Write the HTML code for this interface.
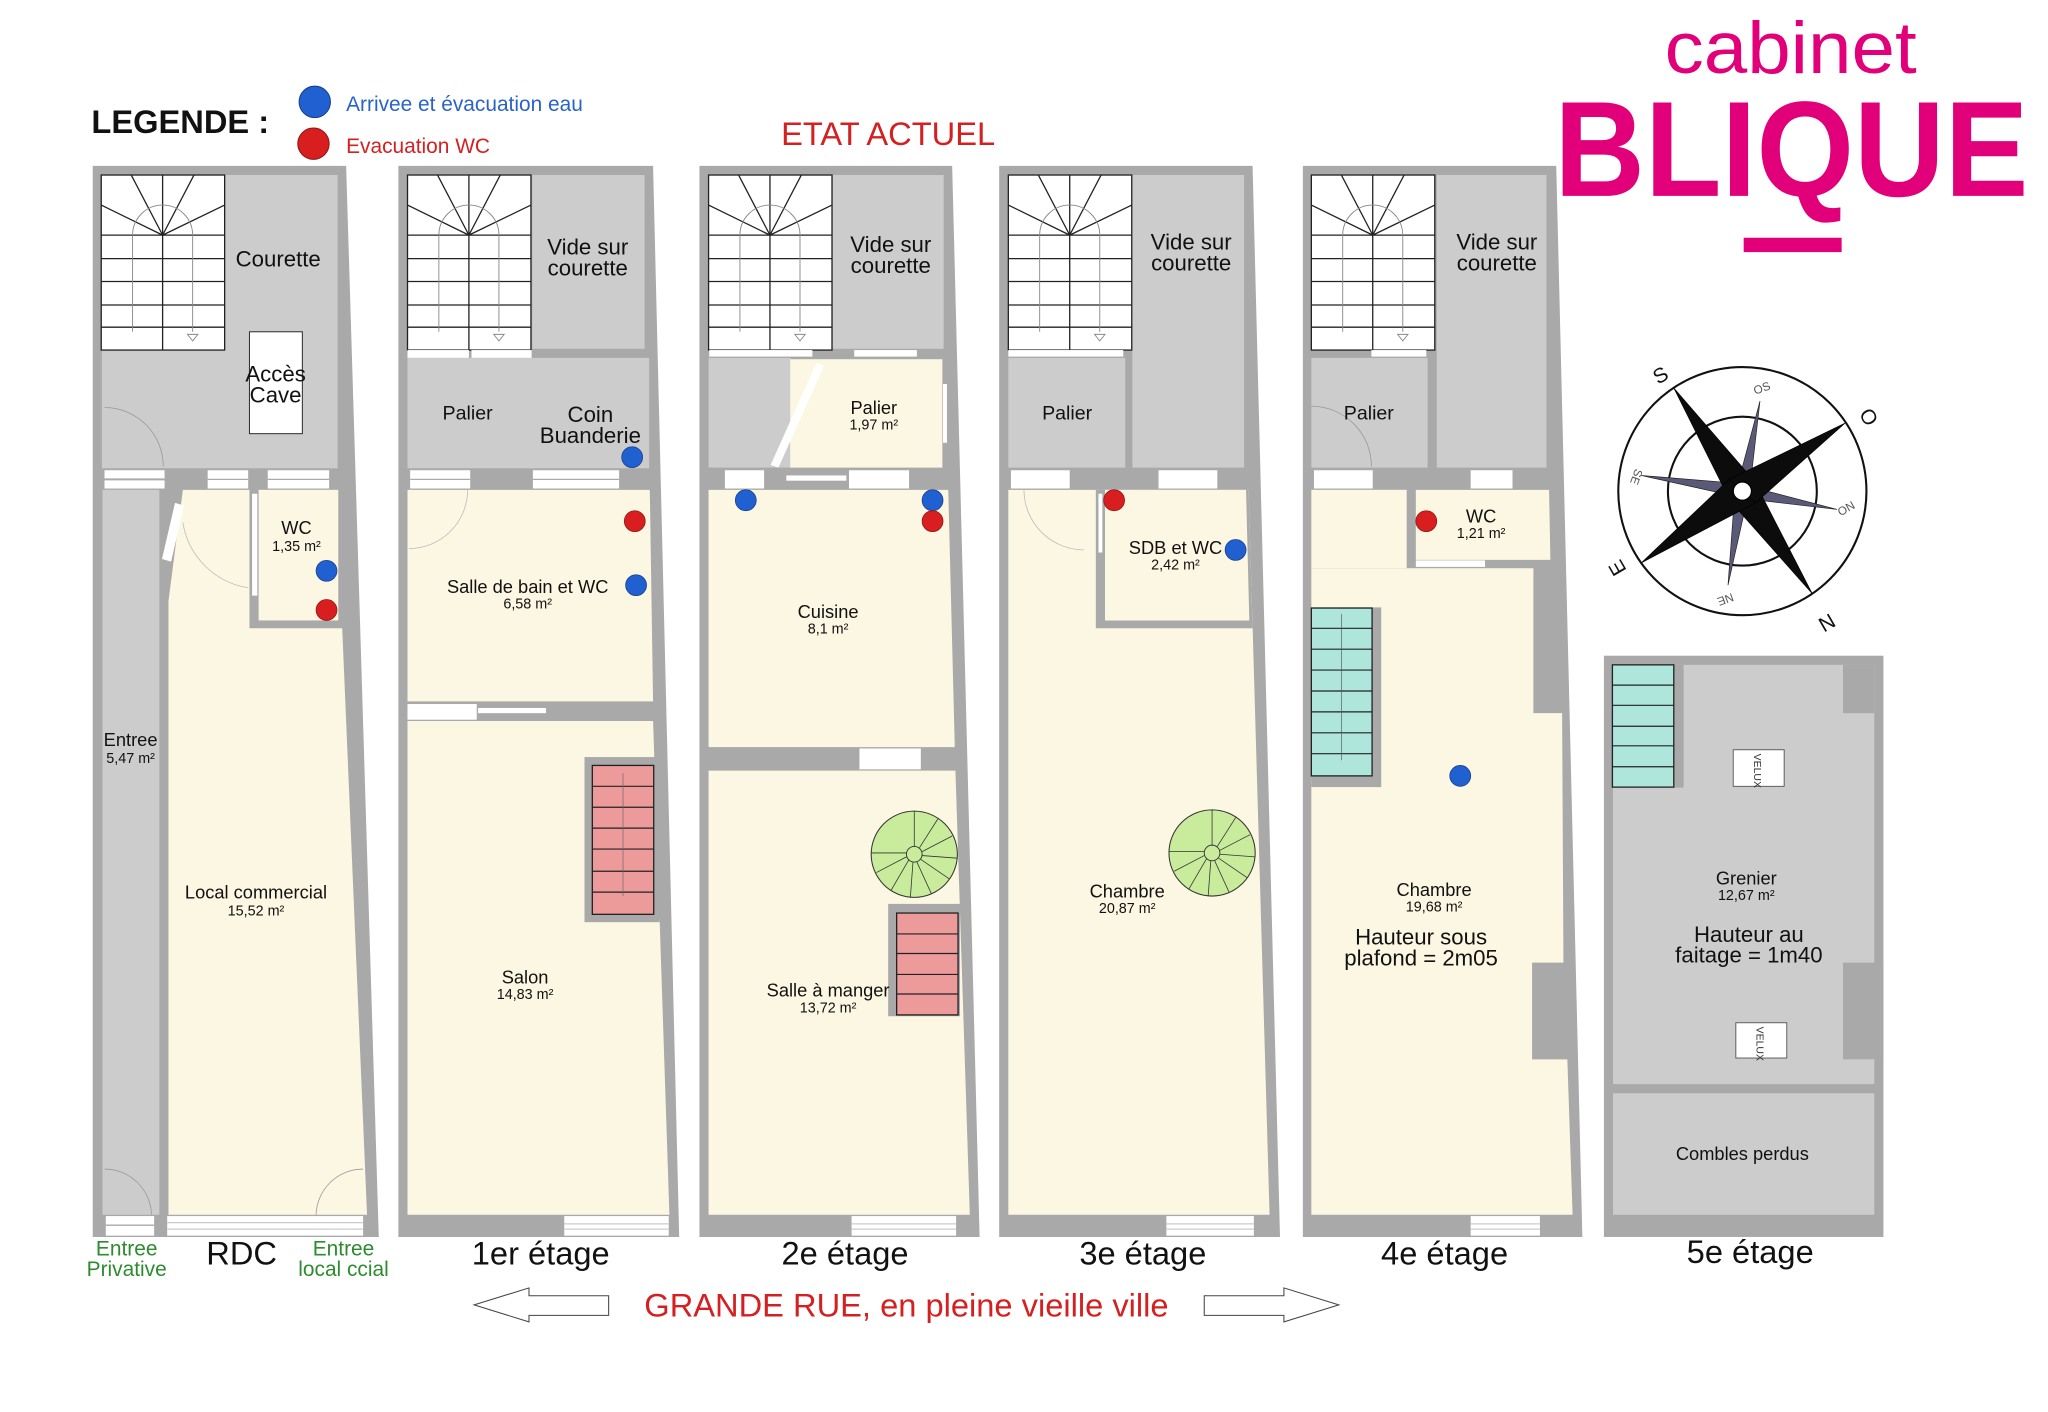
<!DOCTYPE html>
<html><head><meta charset="utf-8"><style>
html,body{margin:0;padding:0;background:#fff}
svg{display:block}
text{font-family:"Liberation Sans",Arial,sans-serif}
</style></head><body>
<svg width="2048" height="1412" viewBox="0 0 1568 1081" preserveAspectRatio="none" xmlns="http://www.w3.org/2000/svg">
<defs>
<g id="stair">
<rect x="0" y="0" width="94.5" height="134" fill="#fff" stroke="#222" stroke-width="1"/>
<g stroke="#222" stroke-width="1" fill="none">
<line x1="0" y1="46" x2="94.5" y2="46"/><line x1="0" y1="64" x2="94.5" y2="64"/><line x1="0" y1="81.5" x2="94.5" y2="81.5"/><line x1="0" y1="99.5" x2="94.5" y2="99.5"/><line x1="0" y1="116.5" x2="94.5" y2="116.5"/>
<line x1="47" y1="0" x2="47" y2="134"/>
<line x1="47" y1="46" x2="0" y2="23"/><line x1="47" y1="46" x2="23" y2="0"/><line x1="47" y1="46" x2="71" y2="0"/><line x1="47" y1="46" x2="94.5" y2="23"/>
</g>
<g stroke="#888" stroke-width="0.7" fill="none">
<path d="M24 120 V46 A23 23 0 0 1 70 46 V120"/>
<path d="M66 122 L74 122 L70 127 Z"/>
</g>
</g>
<g id="win">
<rect x="0" y="0" width="10" height="16" fill="#fff"/>
</g>
</defs>

<!-- Legend -->
<text x="70" y="102" font-size="25" font-weight="bold" fill="#111">LEGENDE :</text>
<circle cx="241" cy="78" r="12" fill="#2060d0" stroke="#1a3f8a" stroke-width="0.8"/>
<circle cx="240" cy="110" r="12" fill="#d81e1e" stroke="#8a1a1a" stroke-width="0.8"/>
<text x="265" y="85" font-size="16" fill="#2a63c8">Arrivee et évacuation eau</text>
<text x="265" y="117" font-size="16" fill="#d42020">Evacuation WC</text>
<text x="680" y="111" font-size="25" fill="#d42020" text-anchor="middle">ETAT ACTUEL</text>

<!-- Logo -->
<text x="1371" y="56" font-size="56" fill="#e2007a" text-anchor="middle" textLength="193" lengthAdjust="spacingAndGlyphs">cabinet</text>
<text x="1190" y="150" font-size="104" font-weight="bold" fill="#e2007a" textLength="363" lengthAdjust="spacingAndGlyphs">BLIQUE</text>
<rect x="1335" y="182" width="75" height="11" fill="#e2007a"/>

<!-- ============ RDC ============ -->
<polygon points="71,127 265,127 290,947 71,947" fill="#a9a9a9"/>
<rect x="78" y="134" width="180.5" height="224.5" fill="#cccccc"/>
<use href="#stair" x="77.5" y="134"/>
<rect x="191" y="254" width="40.5" height="78" fill="#fff" stroke="#333" stroke-width="0.8"/>
<path d="M80 312 A45 45 0 0 1 125 357" fill="none" stroke="#999" stroke-width="0.6"/>
<rect x="80" y="360" width="46" height="14" fill="#fff"/><line x1="80" y1="367" x2="126" y2="367" stroke="#aaa" stroke-width="1.5"/>
<rect x="159" y="360" width="31" height="14" fill="#fff"/><line x1="159" y1="367" x2="190" y2="367" stroke="#aaa" stroke-width="1"/>
<rect x="205" y="360" width="47" height="14" fill="#fff"/><line x1="205" y1="367" x2="252" y2="367" stroke="#aaa" stroke-width="1"/>
<rect x="78.5" y="375" width="43.5" height="555" fill="#cccccc"/>
<polygon points="140,375 191,375 191,481 262,481 281,930 129,930 129,460" fill="#fcf7e2"/>
<rect x="198" y="375" width="61" height="100" fill="#fcf7e2"/>
<rect x="193" y="378" width="4" height="78" fill="#fff"/>
<polygon points="134,385 141,387 131,430 124,428" fill="#fff"/>
<path d="M140 400 A60 60 0 0 0 190 450" fill="none" stroke="#bbb" stroke-width="0.6"/>
<path d="M80 895 A36 36 0 0 1 116 930" fill="none" stroke="#999" stroke-width="0.6"/>
<path d="M278 895 A36 36 0 0 0 242 930" fill="none" stroke="#999" stroke-width="0.6"/>
<rect x="81" y="931" width="37" height="15" fill="#fff"/><line x1="81" y1="938" x2="118" y2="938" stroke="#aaa"/>
<rect x="128" y="931" width="150" height="15" fill="#fff"/><line x1="128" y1="936" x2="278" y2="936" stroke="#ccc"/><line x1="128" y1="941" x2="278" y2="941" stroke="#ccc"/>

<!-- ============ 1er ============ -->
<polygon points="305,127 500,127 520,947 305,947" fill="#a9a9a9"/>
<rect x="407.5" y="134" width="86" height="133" fill="#cccccc"/>
<use href="#stair" x="312" y="134"/>
<rect x="312" y="268" width="47" height="6" fill="#fff"/><rect x="361" y="268" width="46" height="6" fill="#fff"/>
<rect x="312" y="274" width="185" height="84.5" fill="#cccccc"/>
<rect x="314" y="360" width="46" height="14" fill="#fff"/><line x1="314" y1="367" x2="360" y2="367" stroke="#aaa"/>
<rect x="408" y="360" width="66" height="14" fill="#fff"/><line x1="408" y1="367" x2="474" y2="367" stroke="#aaa"/>
<polygon points="312,375 497.5,375 500,537 312,537" fill="#fcf7e2"/>
<path d="M313 420 A45 45 0 0 0 358 375" fill="none" stroke="#bbb" stroke-width="0.6"/>
<rect x="312" y="539" width="53" height="12" fill="#fff"/><rect x="366" y="542" width="52" height="4" fill="#fff"/>
<polygon points="312,552 500,552 512.5,930 312,930" fill="#fcf7e2"/>
<rect x="447.5" y="579.6" width="57.5" height="126.4" fill="#a9a9a9"/>
<rect x="453.5" y="586" width="47" height="114" fill="#ec9a9a" stroke="#222" stroke-width="1"/>
<g stroke="#222" stroke-width="0.9"><line x1="453.5" y1="602" x2="500.5" y2="602"/><line x1="453.5" y1="618" x2="500.5" y2="618"/><line x1="453.5" y1="634" x2="500.5" y2="634"/><line x1="453.5" y1="650" x2="500.5" y2="650"/><line x1="453.5" y1="667" x2="500.5" y2="667"/><line x1="453.5" y1="683" x2="500.5" y2="683"/></g>
<line x1="477" y1="592" x2="477" y2="686" stroke="#666" stroke-width="0.5"/>
<rect x="432" y="931" width="80" height="15" fill="#fff"/><line x1="432" y1="937" x2="512" y2="937" stroke="#ccc"/><line x1="432" y1="941" x2="512" y2="941" stroke="#ccc"/>

<!-- ============ 2e ============ -->
<polygon points="535.5,127 729,127 750,947 535.5,947" fill="#a9a9a9"/>
<rect x="637.5" y="134" width="85" height="133" fill="#cccccc"/>
<use href="#stair" x="542.5" y="134"/>
<rect x="543" y="268" width="79" height="5" fill="#fff"/><rect x="654" y="268" width="48" height="5" fill="#fff"/>
<rect x="542.5" y="274" width="63" height="84" fill="#cccccc"/>
<rect x="605" y="275" width="116.5" height="83" fill="#fcf7e2"/>
<rect x="722" y="294" width="3" height="45" fill="#fff"/>
<polygon points="625,278 631,280 596,358 590,356" fill="#fff"/>
<rect x="555" y="360" width="30" height="14" fill="#fff"/><rect x="602" y="364" width="46" height="4" fill="#fff"/><rect x="650" y="360" width="46" height="14" fill="#fff"/>
<polygon points="542.5,375 726,375 731,572 542.5,572" fill="#fcf7e2"/>
<rect x="658" y="573" width="47" height="16" fill="#fff"/>
<polygon points="542.5,590 731.5,590 742.5,930 542.5,930" fill="#fcf7e2"/>
<g><circle cx="700" cy="654" r="33" fill="#c8eb9c" stroke="#333" stroke-width="0.8"/>
<circle cx="700" cy="654" r="6" fill="#c8eb9c" stroke="#333" stroke-width="0.7"/>
<g stroke="#333" stroke-width="0.6"><line x1="700" y1="648" x2="700" y2="621"/><line x1="704" y1="649" x2="718" y2="627"/><line x1="706" y1="652" x2="729" y2="640"/><line x1="706" y1="655" x2="733" y2="657"/><line x1="705" y1="658" x2="727" y2="673"/><line x1="702" y1="660" x2="713" y2="684"/><line x1="699" y1="660" x2="697" y2="687"/><line x1="696" y1="658" x2="682" y2="682"/><line x1="694" y1="656" x2="671" y2="668"/><line x1="694" y1="653" x2="667" y2="653"/></g></g>
<rect x="680" y="692" width="55" height="86" fill="#a9a9a9"/>
<rect x="686.5" y="699" width="47" height="78" fill="#ec9a9a" stroke="#222" stroke-width="1"/>
<g stroke="#222" stroke-width="0.9"><line x1="686.5" y1="715" x2="733.5" y2="715"/><line x1="686.5" y1="730" x2="733.5" y2="730"/><line x1="686.5" y1="746" x2="733.5" y2="746"/><line x1="686.5" y1="761" x2="733.5" y2="761"/></g>
<rect x="652" y="931" width="80" height="15" fill="#fff"/><line x1="652" y1="937" x2="732" y2="937" stroke="#ccc"/><line x1="652" y1="941" x2="732" y2="941" stroke="#ccc"/>

<!-- ============ 3e ============ -->
<polygon points="765,127 959,127 980,947 765,947" fill="#a9a9a9"/>
<rect x="867" y="134" width="85.5" height="224" fill="#cccccc"/>
<use href="#stair" x="772" y="134"/>
<rect x="772" y="268" width="88" height="5" fill="#fff"/>
<rect x="772" y="274" width="89.5" height="84" fill="#cccccc"/>
<rect x="774" y="360" width="45" height="14" fill="#fff"/><rect x="887" y="360" width="45" height="14" fill="#fff"/>
<polygon points="772,375 956,375 972,930 772,930" fill="#fcf7e2"/>
<polygon points="839,375 956,375 959,481 839,481" fill="#a9a9a9"/>
<polygon points="846,375 954,375 956.5,475 846,475" fill="#fcf7e2"/>
<rect x="841" y="378" width="3" height="45" fill="#fff"/>
<path d="M784 375 A46 46 0 0 0 830 421" fill="none" stroke="#bbb" stroke-width="0.6"/>
<g><circle cx="928" cy="653" r="33" fill="#c8eb9c" stroke="#333" stroke-width="0.8"/>
<circle cx="928" cy="653" r="6" fill="#c8eb9c" stroke="#333" stroke-width="0.7"/>
<g stroke="#333" stroke-width="0.6"><line x1="928" y1="647" x2="928" y2="620"/><line x1="932" y1="648" x2="946" y2="626"/><line x1="934" y1="651" x2="957" y2="639"/><line x1="934" y1="654" x2="961" y2="656"/><line x1="933" y1="657" x2="955" y2="672"/><line x1="930" y1="659" x2="941" y2="683"/><line x1="927" y1="659" x2="925" y2="686"/><line x1="924" y1="657" x2="910" y2="681"/><line x1="922" y1="655" x2="899" y2="667"/><line x1="922" y1="652" x2="895" y2="652"/></g></g>
<rect x="893" y="931" width="67" height="15" fill="#fff"/><line x1="893" y1="937" x2="960" y2="937" stroke="#ccc"/><line x1="893" y1="941" x2="960" y2="941" stroke="#ccc"/>

<!-- ============ 4e ============ -->
<polygon points="997.5,127 1191.5,127 1211.5,947 997.5,947" fill="#a9a9a9"/>
<rect x="1100" y="134" width="84" height="224" fill="#cccccc"/>
<use href="#stair" x="1004" y="134"/>
<rect x="1050" y="268" width="42" height="5" fill="#fff"/>
<rect x="1004" y="274" width="89" height="84" fill="#cccccc"/>
<path d="M1004 311 A46 46 0 0 1 1050 357" fill="none" stroke="#999" stroke-width="0.6"/>
<rect x="1006" y="360" width="45" height="14" fill="#fff"/><rect x="1126" y="360" width="32" height="14" fill="#fff"/>
<rect x="1004" y="375" width="73" height="60" fill="#fcf7e2"/>
<polygon points="1084,375 1186,375 1187,428.6 1084,428.6" fill="#fcf7e2"/>
<polygon points="1004,435 1174,435 1174,546 1196,546 1197,737 1173,737 1173,811 1200,811 1204,930 1004,930" fill="#fcf7e2"/>
<rect x="1084" y="429" width="53" height="5" fill="#fff"/>
<rect x="1004" y="465" width="53.5" height="137.6" fill="#a9a9a9"/>
<rect x="1004" y="465.5" width="46.5" height="128.5" fill="#aee6dc" stroke="#222" stroke-width="1"/>
<g stroke="#222" stroke-width="0.9"><line x1="1004" y1="481" x2="1050.5" y2="481"/><line x1="1004" y1="497" x2="1050.5" y2="497"/><line x1="1004" y1="513" x2="1050.5" y2="513"/><line x1="1004" y1="529" x2="1050.5" y2="529"/><line x1="1004" y1="545" x2="1050.5" y2="545"/><line x1="1004" y1="561" x2="1050.5" y2="561"/><line x1="1004" y1="577" x2="1050.5" y2="577"/></g>
<line x1="1027" y1="470" x2="1027" y2="582" stroke="#555" stroke-width="0.5"/>
<rect x="1126" y="931" width="53" height="15" fill="#fff"/><line x1="1126" y1="937" x2="1179" y2="937" stroke="#ccc"/><line x1="1126" y1="941" x2="1179" y2="941" stroke="#ccc"/>

<!-- ============ 5e ============ -->
<rect x="1228" y="502" width="214" height="445" fill="#a9a9a9"/>
<rect x="1235" y="509" width="200" height="321" fill="#cccccc"/>
<rect x="1411" y="509" width="24" height="37" fill="#a9a9a9"/>
<rect x="1411" y="737" width="31" height="74" fill="#a9a9a9"/>
<rect x="1281" y="509" width="8" height="94" fill="#a9a9a9"/>
<rect x="1234.5" y="509" width="47" height="93.6" fill="#aee6dc" stroke="#222" stroke-width="1"/>
<g stroke="#222" stroke-width="0.9"><line x1="1234.5" y1="524.5" x2="1281.5" y2="524.5"/><line x1="1234.5" y1="540" x2="1281.5" y2="540"/><line x1="1234.5" y1="556" x2="1281.5" y2="556"/><line x1="1234.5" y1="571" x2="1281.5" y2="571"/><line x1="1234.5" y1="587" x2="1281.5" y2="587"/></g>
<rect x="1235" y="837" width="200" height="93" fill="#cccccc"/>
<rect x="1327" y="574" width="39" height="28" fill="#fff" stroke="#555" stroke-width="0.7"/>
<rect x="1329" y="783" width="39" height="27" fill="#fff" stroke="#555" stroke-width="0.7"/>
<text transform="translate(1343,577) rotate(90)" font-size="8" font-family="Liberation Serif,serif" fill="#333">VELUX</text>
<text transform="translate(1345,786) rotate(90)" font-size="8" font-family="Liberation Serif,serif" fill="#333">VELUX</text>

<!-- Dots -->
<g stroke-width="0.6">
<circle cx="250" cy="437" r="8" fill="#2060d0" stroke="#1a3f8a"/>
<circle cx="250" cy="467" r="8" fill="#d81e1e" stroke="#8a1a1a"/>
<circle cx="484" cy="350" r="8" fill="#2060d0" stroke="#1a3f8a"/>
<circle cx="486" cy="399" r="8" fill="#d81e1e" stroke="#8a1a1a"/>
<circle cx="487" cy="448" r="8" fill="#2060d0" stroke="#1a3f8a"/>
<circle cx="571" cy="383" r="8" fill="#2060d0" stroke="#1a3f8a"/>
<circle cx="714" cy="383" r="8" fill="#2060d0" stroke="#1a3f8a"/>
<circle cx="714" cy="399" r="8" fill="#d81e1e" stroke="#8a1a1a"/>
<circle cx="853" cy="383" r="8" fill="#d81e1e" stroke="#8a1a1a"/>
<circle cx="946" cy="421" r="8" fill="#2060d0" stroke="#1a3f8a"/>
<circle cx="1092" cy="399" r="8" fill="#d81e1e" stroke="#8a1a1a"/>
<circle cx="1118" cy="594" r="8" fill="#2060d0" stroke="#1a3f8a"/>
</g>

<!-- Room labels -->
<g fill="#111" text-anchor="middle">
<text x="213" y="204" font-size="17">Courette</text>
<text x="211" y="292" font-size="17">Accès</text><text x="211" y="308" font-size="17">Cave</text>
<text x="227" y="409" font-size="14">WC</text><text x="227" y="422" font-size="11">1,35 m²</text>
<text x="100" y="571" font-size="14">Entree</text><text x="100" y="584" font-size="11">5,47 m²</text>
<text x="196" y="688" font-size="14">Local commercial</text><text x="196" y="701" font-size="11">15,52 m²</text>

<text x="450" y="195" font-size="17">Vide sur</text><text x="450" y="211" font-size="17">courette</text>
<text x="358" y="321" font-size="15">Palier</text>
<text x="452" y="323" font-size="17">Coin</text><text x="452" y="339" font-size="17">Buanderie</text>
<text x="404" y="454" font-size="14">Salle de bain et WC</text><text x="404" y="466" font-size="11">6,58 m²</text>
<text x="402" y="753" font-size="14">Salon</text><text x="402" y="765" font-size="11">14,83 m²</text>

<text x="682" y="193" font-size="17">Vide sur</text><text x="682" y="209" font-size="17">courette</text>
<text x="669" y="317" font-size="14">Palier</text><text x="669" y="329" font-size="11">1,97 m²</text>
<text x="634" y="473" font-size="14">Cuisine</text><text x="634" y="485" font-size="11">8,1 m²</text>
<text x="634" y="763" font-size="14">Salle à manger</text><text x="634" y="775" font-size="11">13,72 m²</text>

<text x="912" y="191" font-size="17">Vide sur</text><text x="912" y="207" font-size="17">courette</text>
<text x="817" y="321" font-size="15">Palier</text>
<text x="900" y="424" font-size="14">SDB et WC</text><text x="900" y="436" font-size="11">2,42 m²</text>
<text x="863" y="687" font-size="14">Chambre</text><text x="863" y="699" font-size="11">20,87 m²</text>

<text x="1146" y="191" font-size="17">Vide sur</text><text x="1146" y="207" font-size="17">courette</text>
<text x="1048" y="321" font-size="15">Palier</text>
<text x="1134" y="400" font-size="14">WC</text><text x="1134" y="412" font-size="11">1,21 m²</text>
<text x="1098" y="686" font-size="14">Chambre</text><text x="1098" y="698" font-size="11">19,68 m²</text>
<text x="1088" y="723" font-size="17">Hauteur sous</text><text x="1088" y="739" font-size="17">plafond = 2m05</text>

<text x="1337" y="677" font-size="14">Grenier</text><text x="1337" y="689" font-size="11">12,67 m²</text>
<text x="1339" y="721" font-size="17">Hauteur au</text><text x="1339" y="737" font-size="17">faitage = 1m40</text>
<text x="1334" y="888" font-size="14">Combles perdus</text>
</g>

<!-- Floor labels -->
<g text-anchor="middle">
<text x="97" y="961" font-size="16" fill="#2e8b2e">Entree</text><text x="97" y="977" font-size="16" fill="#2e8b2e">Privative</text>
<text x="263" y="961" font-size="16" fill="#2e8b2e">Entree</text><text x="263" y="977" font-size="16" fill="#2e8b2e">local ccial</text>
<g font-size="25" fill="#111">
<text x="185" y="968">RDC</text>
<text x="414" y="968">1er étage</text>
<text x="647" y="968">2e étage</text>
<text x="875" y="968">3e étage</text>
<text x="1106" y="968">4e étage</text>
<text x="1340" y="967">5e étage</text>
</g>
<text x="694" y="1008" font-size="25" fill="#d42020">GRANDE RUE, en pleine vieille ville</text>
</g>
<polygon points="363,999 405,986 405,992 466,992 466,1007 405,1007 405,1012" fill="#fff" stroke="#444" stroke-width="0.8"/>
<polygon points="922,992 983,992 983,986 1025,999 983,1012 983,1007 922,1007" fill="#fff" stroke="#444" stroke-width="0.8"/>

<!-- Compass -->
<g>
<circle cx="1334" cy="376" r="95" fill="#fff" stroke="#111" stroke-width="1.6"/>
<circle cx="1334" cy="376" r="57" fill="none" stroke="#111" stroke-width="1.6"/>
<g fill="#5a5a78" stroke="#222" stroke-width="0.5">
<polygon points="1347.5,307 1340,372 1328,380"/>
<polygon points="1323,448 1328,380 1340,372"/>
<polygon points="1256.5,364 1330,370 1338,382"/>
<polygon points="1406.5,390 1338,382 1330,370"/>
</g>
<g fill="#0c0c0c" stroke="#000" stroke-width="0.5">
<polygon points="1281.5,297 1343,368 1325,384"/>
<polygon points="1387.5,454.5 1325,384 1343,368"/>
<polygon points="1412.5,324 1344,385 1324,367"/>
<polygon points="1256.5,431 1324,367 1344,385"/>
</g>
<circle cx="1334" cy="376" r="7" fill="#fff" stroke="#000" stroke-width="1"/>
<text transform="translate(1274,292) rotate(-30)" font-size="16" fill="#111" text-anchor="middle">S</text>
<text transform="translate(1426,322) rotate(60)" font-size="16" fill="#111" text-anchor="middle">O</text>
<text transform="translate(1243,432) rotate(-120)" font-size="16" fill="#111" text-anchor="middle">E</text>
<text transform="translate(1396,472) rotate(150)" font-size="16" fill="#111" text-anchor="middle">N</text>
<text transform="translate(1350,300) rotate(-20)" font-size="9" fill="#555" text-anchor="middle">OS</text>
<text transform="translate(1415,392) rotate(-30)" font-size="9" fill="#555" text-anchor="middle">ON</text>
<text transform="translate(1320,456) rotate(160)" font-size="9" fill="#555" text-anchor="middle">NE</text>
<text transform="translate(1250,364) rotate(110)" font-size="9" fill="#555" text-anchor="middle">SE</text>
</g>
</svg>
</body></html>
